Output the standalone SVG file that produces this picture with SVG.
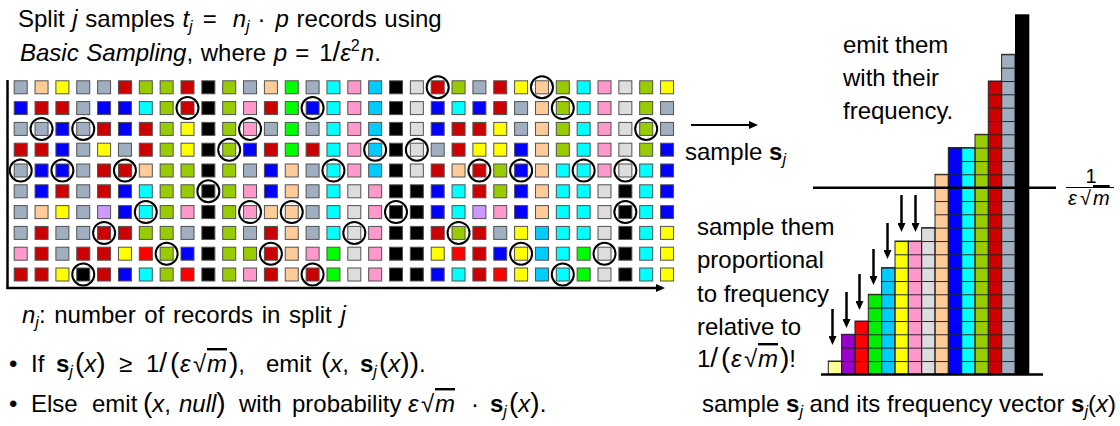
<svg xmlns="http://www.w3.org/2000/svg" xmlns:xlink="http://www.w3.org/1999/xlink" width="1120" height="426" viewBox="0 0 1120 426">
<style>
.t{font-family:"Liberation Sans",Arial,sans-serif;font-size:24px;fill:#000}
.it{font-style:italic}
.bd{font-weight:bold}
.sb{font-size:16px;font-style:italic}
.pn{font-size:28px}
.ov{font-style:italic;text-decoration:overline}
.G{fill:#9fafc0}.P{fill:#ffcc99}.Y{fill:#ffff00}.R{fill:#cc0000}.L{fill:#99cc00}.K{fill:#000000}.N{fill:#00ff00}.C{fill:#00ffff}.I{fill:#ff99cc}.S{fill:#00ccff}.W{fill:#dddddd}.B{fill:#0000ff}.V{fill:#cc99ff}.E{fill:#ff0000}
.ring{fill:none;stroke:#000;stroke-width:2}
.ax{stroke:#000;stroke-width:2.5;fill:none}
.arr{stroke:#000;stroke-width:2.5;fill:none;marker-end:url(#ah)}
.cell{fill:url(#cells);stroke:#222;stroke-width:1}
</style>
<defs>
<rect id="q" width="13" height="13" stroke="#505050" stroke-width="1"/>
<marker id="ah" viewBox="0 0 9 8" markerWidth="9" markerHeight="8" refX="4" refY="4" orient="auto" markerUnits="userSpaceOnUse"><path d="M0,0 L9,4 L0,8 z" fill="#000"/></marker>
<pattern id="cells" patternUnits="userSpaceOnUse" x="0" y="374.3" width="20" height="13.333"><path d="M0 0.5H20" stroke="#222" stroke-width="1"/></pattern>
</defs>
<rect width="1120" height="426" fill="#fff"/>

<g id="grid">
<g transform="translate(0,80.8)">
<use href="#q" x="14.2" class="G"/><use href="#q" x="35.05" class="P"/><use href="#q" x="55.9" class="Y"/><use href="#q" x="76.75" class="G"/><use href="#q" x="97.6" class="G"/><use href="#q" x="118.45" class="R"/><use href="#q" x="139.3" class="L"/><use href="#q" x="160.15" class="L"/><use href="#q" x="181" class="R"/><use href="#q" x="201.85" class="K"/><use href="#q" x="222.7" class="L"/><use href="#q" x="243.55" class="G"/><use href="#q" x="264.4" class="P"/><use href="#q" x="285.25" class="N"/><use href="#q" x="306.1" class="G"/><use href="#q" x="326.95" class="C"/><use href="#q" x="347.8" class="I"/><use href="#q" x="368.65" class="S"/><use href="#q" x="389.5" class="K"/><use href="#q" x="410.35" class="W"/><use href="#q" x="431.2" class="R"/><use href="#q" x="452.05" class="L"/><use href="#q" x="472.9" class="G"/><use href="#q" x="493.75" class="R"/><use href="#q" x="514.6" class="Y"/><use href="#q" x="535.45" class="P"/><use href="#q" x="556.3" class="L"/><use href="#q" x="577.15" class="C"/><use href="#q" x="598" class="I"/><use href="#q" x="618.85" class="W"/><use href="#q" x="639.7" class="L"/><use href="#q" x="660.55" class="Y"/>
</g>
<g transform="translate(0,101.6)">
<use href="#q" x="14.2" class="B"/><use href="#q" x="35.05" class="R"/><use href="#q" x="55.9" class="R"/><use href="#q" x="76.75" class="G"/><use href="#q" x="97.6" class="B"/><use href="#q" x="118.45" class="B"/><use href="#q" x="139.3" class="C"/><use href="#q" x="160.15" class="L"/><use href="#q" x="181" class="R"/><use href="#q" x="201.85" class="K"/><use href="#q" x="222.7" class="L"/><use href="#q" x="243.55" class="I"/><use href="#q" x="264.4" class="R"/><use href="#q" x="285.25" class="N"/><use href="#q" x="306.1" class="B"/><use href="#q" x="326.95" class="C"/><use href="#q" x="347.8" class="I"/><use href="#q" x="368.65" class="S"/><use href="#q" x="389.5" class="K"/><use href="#q" x="410.35" class="W"/><use href="#q" x="431.2" class="B"/><use href="#q" x="452.05" class="C"/><use href="#q" x="472.9" class="B"/><use href="#q" x="493.75" class="R"/><use href="#q" x="514.6" class="G"/><use href="#q" x="535.45" class="P"/><use href="#q" x="556.3" class="L"/><use href="#q" x="577.15" class="C"/><use href="#q" x="598" class="I"/><use href="#q" x="618.85" class="W"/><use href="#q" x="639.7" class="L"/><use href="#q" x="660.55" class="G"/>
</g>
<g transform="translate(0,122.4)">
<use href="#q" x="14.2" class="G"/><use href="#q" x="35.05" class="G"/><use href="#q" x="55.9" class="B"/><use href="#q" x="76.75" class="G"/><use href="#q" x="97.6" class="R"/><use href="#q" x="118.45" class="B"/><use href="#q" x="139.3" class="R"/><use href="#q" x="160.15" class="L"/><use href="#q" x="181" class="Y"/><use href="#q" x="201.85" class="K"/><use href="#q" x="222.7" class="L"/><use href="#q" x="243.55" class="I"/><use href="#q" x="264.4" class="G"/><use href="#q" x="285.25" class="N"/><use href="#q" x="306.1" class="G"/><use href="#q" x="326.95" class="C"/><use href="#q" x="347.8" class="I"/><use href="#q" x="368.65" class="S"/><use href="#q" x="389.5" class="K"/><use href="#q" x="410.35" class="W"/><use href="#q" x="431.2" class="B"/><use href="#q" x="452.05" class="R"/><use href="#q" x="472.9" class="R"/><use href="#q" x="493.75" class="Y"/><use href="#q" x="514.6" class="G"/><use href="#q" x="535.45" class="P"/><use href="#q" x="556.3" class="L"/><use href="#q" x="577.15" class="C"/><use href="#q" x="598" class="I"/><use href="#q" x="618.85" class="W"/><use href="#q" x="639.7" class="L"/><use href="#q" x="660.55" class="G"/>
</g>
<g transform="translate(0,143.2)">
<use href="#q" x="14.2" class="R"/><use href="#q" x="35.05" class="R"/><use href="#q" x="55.9" class="B"/><use href="#q" x="76.75" class="G"/><use href="#q" x="97.6" class="Y"/><use href="#q" x="118.45" class="G"/><use href="#q" x="139.3" class="R"/><use href="#q" x="160.15" class="L"/><use href="#q" x="181" class="Y"/><use href="#q" x="201.85" class="K"/><use href="#q" x="222.7" class="L"/><use href="#q" x="243.55" class="B"/><use href="#q" x="264.4" class="R"/><use href="#q" x="285.25" class="N"/><use href="#q" x="306.1" class="R"/><use href="#q" x="326.95" class="C"/><use href="#q" x="347.8" class="I"/><use href="#q" x="368.65" class="S"/><use href="#q" x="389.5" class="K"/><use href="#q" x="410.35" class="W"/><use href="#q" x="431.2" class="G"/><use href="#q" x="452.05" class="R"/><use href="#q" x="472.9" class="Y"/><use href="#q" x="493.75" class="Y"/><use href="#q" x="514.6" class="B"/><use href="#q" x="535.45" class="P"/><use href="#q" x="556.3" class="L"/><use href="#q" x="577.15" class="C"/><use href="#q" x="598" class="I"/><use href="#q" x="618.85" class="W"/><use href="#q" x="639.7" class="L"/><use href="#q" x="660.55" class="B"/>
</g>
<g transform="translate(0,164)">
<use href="#q" x="14.2" class="G"/><use href="#q" x="35.05" class="B"/><use href="#q" x="55.9" class="B"/><use href="#q" x="76.75" class="G"/><use href="#q" x="97.6" class="R"/><use href="#q" x="118.45" class="R"/><use href="#q" x="139.3" class="P"/><use href="#q" x="160.15" class="L"/><use href="#q" x="181" class="L"/><use href="#q" x="201.85" class="K"/><use href="#q" x="222.7" class="L"/><use href="#q" x="243.55" class="G"/><use href="#q" x="264.4" class="B"/><use href="#q" x="285.25" class="P"/><use href="#q" x="306.1" class="G"/><use href="#q" x="326.95" class="C"/><use href="#q" x="347.8" class="I"/><use href="#q" x="368.65" class="S"/><use href="#q" x="389.5" class="K"/><use href="#q" x="410.35" class="W"/><use href="#q" x="431.2" class="R"/><use href="#q" x="452.05" class="P"/><use href="#q" x="472.9" class="R"/><use href="#q" x="493.75" class="L"/><use href="#q" x="514.6" class="B"/><use href="#q" x="535.45" class="P"/><use href="#q" x="556.3" class="C"/><use href="#q" x="577.15" class="C"/><use href="#q" x="598" class="I"/><use href="#q" x="618.85" class="W"/><use href="#q" x="639.7" class="C"/><use href="#q" x="660.55" class="B"/>
</g>
<g transform="translate(0,184.8)">
<use href="#q" x="14.2" class="G"/><use href="#q" x="35.05" class="B"/><use href="#q" x="55.9" class="R"/><use href="#q" x="76.75" class="G"/><use href="#q" x="97.6" class="R"/><use href="#q" x="118.45" class="B"/><use href="#q" x="139.3" class="C"/><use href="#q" x="160.15" class="L"/><use href="#q" x="181" class="L"/><use href="#q" x="201.85" class="K"/><use href="#q" x="222.7" class="L"/><use href="#q" x="243.55" class="I"/><use href="#q" x="264.4" class="B"/><use href="#q" x="285.25" class="P"/><use href="#q" x="306.1" class="G"/><use href="#q" x="326.95" class="C"/><use href="#q" x="347.8" class="W"/><use href="#q" x="368.65" class="I"/><use href="#q" x="389.5" class="K"/><use href="#q" x="410.35" class="K"/><use href="#q" x="431.2" class="B"/><use href="#q" x="452.05" class="C"/><use href="#q" x="472.9" class="R"/><use href="#q" x="493.75" class="L"/><use href="#q" x="514.6" class="B"/><use href="#q" x="535.45" class="P"/><use href="#q" x="556.3" class="C"/><use href="#q" x="577.15" class="C"/><use href="#q" x="598" class="W"/><use href="#q" x="618.85" class="K"/><use href="#q" x="639.7" class="C"/><use href="#q" x="660.55" class="B"/>
</g>
<g transform="translate(0,205.6)">
<use href="#q" x="14.2" class="G"/><use href="#q" x="35.05" class="P"/><use href="#q" x="55.9" class="Y"/><use href="#q" x="76.75" class="G"/><use href="#q" x="97.6" class="V"/><use href="#q" x="118.45" class="B"/><use href="#q" x="139.3" class="C"/><use href="#q" x="160.15" class="L"/><use href="#q" x="181" class="I"/><use href="#q" x="201.85" class="K"/><use href="#q" x="222.7" class="L"/><use href="#q" x="243.55" class="I"/><use href="#q" x="264.4" class="P"/><use href="#q" x="285.25" class="P"/><use href="#q" x="306.1" class="G"/><use href="#q" x="326.95" class="C"/><use href="#q" x="347.8" class="W"/><use href="#q" x="368.65" class="I"/><use href="#q" x="389.5" class="K"/><use href="#q" x="410.35" class="K"/><use href="#q" x="431.2" class="B"/><use href="#q" x="452.05" class="C"/><use href="#q" x="472.9" class="V"/><use href="#q" x="493.75" class="I"/><use href="#q" x="514.6" class="B"/><use href="#q" x="535.45" class="P"/><use href="#q" x="556.3" class="C"/><use href="#q" x="577.15" class="C"/><use href="#q" x="598" class="W"/><use href="#q" x="618.85" class="K"/><use href="#q" x="639.7" class="C"/><use href="#q" x="660.55" class="B"/>
</g>
<g transform="translate(0,226.4)">
<use href="#q" x="14.2" class="G"/><use href="#q" x="35.05" class="R"/><use href="#q" x="55.9" class="G"/><use href="#q" x="76.75" class="G"/><use href="#q" x="97.6" class="R"/><use href="#q" x="118.45" class="R"/><use href="#q" x="139.3" class="L"/><use href="#q" x="160.15" class="L"/><use href="#q" x="181" class="G"/><use href="#q" x="201.85" class="K"/><use href="#q" x="222.7" class="L"/><use href="#q" x="243.55" class="G"/><use href="#q" x="264.4" class="R"/><use href="#q" x="285.25" class="P"/><use href="#q" x="306.1" class="G"/><use href="#q" x="326.95" class="C"/><use href="#q" x="347.8" class="W"/><use href="#q" x="368.65" class="I"/><use href="#q" x="389.5" class="K"/><use href="#q" x="410.35" class="K"/><use href="#q" x="431.2" class="R"/><use href="#q" x="452.05" class="L"/><use href="#q" x="472.9" class="R"/><use href="#q" x="493.75" class="G"/><use href="#q" x="514.6" class="Y"/><use href="#q" x="535.45" class="S"/><use href="#q" x="556.3" class="C"/><use href="#q" x="577.15" class="C"/><use href="#q" x="598" class="W"/><use href="#q" x="618.85" class="K"/><use href="#q" x="639.7" class="C"/><use href="#q" x="660.55" class="Y"/>
</g>
<g transform="translate(0,247.2)">
<use href="#q" x="14.2" class="I"/><use href="#q" x="35.05" class="R"/><use href="#q" x="55.9" class="G"/><use href="#q" x="76.75" class="R"/><use href="#q" x="97.6" class="R"/><use href="#q" x="118.45" class="Y"/><use href="#q" x="139.3" class="E"/><use href="#q" x="160.15" class="L"/><use href="#q" x="181" class="B"/><use href="#q" x="201.85" class="K"/><use href="#q" x="222.7" class="L"/><use href="#q" x="243.55" class="L"/><use href="#q" x="264.4" class="R"/><use href="#q" x="285.25" class="P"/><use href="#q" x="306.1" class="I"/><use href="#q" x="326.95" class="N"/><use href="#q" x="347.8" class="W"/><use href="#q" x="368.65" class="I"/><use href="#q" x="389.5" class="K"/><use href="#q" x="410.35" class="K"/><use href="#q" x="431.2" class="Y"/><use href="#q" x="452.05" class="E"/><use href="#q" x="472.9" class="R"/><use href="#q" x="493.75" class="B"/><use href="#q" x="514.6" class="Y"/><use href="#q" x="535.45" class="S"/><use href="#q" x="556.3" class="C"/><use href="#q" x="577.15" class="N"/><use href="#q" x="598" class="W"/><use href="#q" x="618.85" class="K"/><use href="#q" x="639.7" class="C"/><use href="#q" x="660.55" class="Y"/>
</g>
<g transform="translate(0,268)">
<use href="#q" x="14.2" class="R"/><use href="#q" x="35.05" class="R"/><use href="#q" x="55.9" class="Y"/><use href="#q" x="76.75" class="K"/><use href="#q" x="97.6" class="R"/><use href="#q" x="118.45" class="B"/><use href="#q" x="139.3" class="C"/><use href="#q" x="160.15" class="L"/><use href="#q" x="181" class="E"/><use href="#q" x="201.85" class="K"/><use href="#q" x="222.7" class="L"/><use href="#q" x="243.55" class="I"/><use href="#q" x="264.4" class="R"/><use href="#q" x="285.25" class="P"/><use href="#q" x="306.1" class="R"/><use href="#q" x="326.95" class="N"/><use href="#q" x="347.8" class="W"/><use href="#q" x="368.65" class="I"/><use href="#q" x="389.5" class="K"/><use href="#q" x="410.35" class="K"/><use href="#q" x="431.2" class="B"/><use href="#q" x="452.05" class="C"/><use href="#q" x="472.9" class="R"/><use href="#q" x="493.75" class="E"/><use href="#q" x="514.6" class="Y"/><use href="#q" x="535.45" class="S"/><use href="#q" x="556.3" class="C"/><use href="#q" x="577.15" class="N"/><use href="#q" x="598" class="W"/><use href="#q" x="618.85" class="K"/><use href="#q" x="639.7" class="C"/><use href="#q" x="660.55" class="Y"/>
</g>
</g>

<g id="samples">
<circle class="ring" cx="437.7" cy="87.3" r="11"/><circle class="ring" cx="541.95" cy="87.3" r="11"/>
<circle class="ring" cx="187.5" cy="108.1" r="11"/><circle class="ring" cx="312.6" cy="108.1" r="11"/><circle class="ring" cx="562.8" cy="108.1" r="11"/>
<circle class="ring" cx="41.55" cy="128.9" r="11"/><circle class="ring" cx="83.25" cy="128.9" r="11"/><circle class="ring" cx="250.05" cy="128.9" r="11"/><circle class="ring" cx="646.2" cy="128.9" r="11"/>
<circle class="ring" cx="229.2" cy="149.7" r="11"/><circle class="ring" cx="375.15" cy="149.7" r="11"/><circle class="ring" cx="416.85" cy="149.7" r="11"/>
<circle class="ring" cx="20.7" cy="170.5" r="11"/><circle class="ring" cx="62.4" cy="170.5" r="11"/><circle class="ring" cx="124.95" cy="170.5" r="11"/><circle class="ring" cx="333.45" cy="170.5" r="11"/><circle class="ring" cx="479.4" cy="170.5" r="11"/><circle class="ring" cx="521.1" cy="170.5" r="11"/><circle class="ring" cx="583.65" cy="170.5" r="11"/><circle class="ring" cx="625.35" cy="170.5" r="11"/>
<circle class="ring" cx="208.35" cy="191.3" r="11"/>
<circle class="ring" cx="145.8" cy="212.1" r="11"/><circle class="ring" cx="250.05" cy="212.1" r="11"/><circle class="ring" cx="291.75" cy="212.1" r="11"/><circle class="ring" cx="396" cy="212.1" r="11"/><circle class="ring" cx="625.35" cy="212.1" r="11"/>
<circle class="ring" cx="104.1" cy="232.9" r="11"/><circle class="ring" cx="354.3" cy="232.9" r="11"/><circle class="ring" cx="458.55" cy="232.9" r="11"/>
<circle class="ring" cx="166.65" cy="253.7" r="11"/><circle class="ring" cx="270.9" cy="253.7" r="11"/><circle class="ring" cx="521.1" cy="253.7" r="11"/><circle class="ring" cx="604.5" cy="253.7" r="11"/>
<circle class="ring" cx="83.25" cy="274.5" r="11"/><circle class="ring" cx="312.6" cy="274.5" r="11"/><circle class="ring" cx="562.8" cy="274.5" r="11"/>
</g>

<g id="histogram">
<rect x="828.3" y="361" width="13.33" height="13.3" fill="#ffff99"/>
<rect x="841.6" y="334.3" width="13.33" height="40" fill="#9900cc"/>
<rect x="855" y="321" width="13.33" height="53.3" fill="#ff0000"/>
<rect x="868.3" y="294.3" width="13.33" height="80" fill="#00ee00"/>
<rect x="881.6" y="267.6" width="13.33" height="106.7" fill="#00ccff"/>
<rect x="895" y="241" width="13.33" height="133.3" fill="#ffff00"/>
<rect x="908.3" y="241" width="13.33" height="133.3" fill="#ff99cc"/>
<rect x="921.6" y="227.6" width="13.33" height="146.7" fill="#dddddd"/>
<rect x="935" y="174.3" width="13.33" height="200" fill="#ffcc99"/>
<rect x="948.3" y="147.6" width="13.33" height="226.7" fill="#0000ff"/>
<rect x="961.6" y="147.6" width="13.33" height="226.7" fill="#00ffff"/>
<rect x="975" y="134.3" width="13.33" height="240" fill="#99cc00"/>
<rect x="988.3" y="81" width="13.33" height="293.3" fill="#cc0000"/>
<rect x="1001.6" y="54.3" width="13.33" height="320" fill="#9fafc0"/>
<rect class="cell" x="828.3" y="361" width="13.33" height="13.3"/>
<rect class="cell" x="841.6" y="334.3" width="13.33" height="40"/>
<rect class="cell" x="855" y="321" width="13.33" height="53.3"/>
<rect class="cell" x="868.3" y="294.3" width="13.33" height="80"/>
<rect class="cell" x="881.6" y="267.6" width="13.33" height="106.7"/>
<rect class="cell" x="895" y="241" width="13.33" height="133.3"/>
<rect class="cell" x="908.3" y="241" width="13.33" height="133.3"/>
<rect class="cell" x="921.6" y="227.6" width="13.33" height="146.7"/>
<rect class="cell" x="935" y="174.3" width="13.33" height="200"/>
<rect class="cell" x="948.3" y="147.6" width="13.33" height="226.7"/>
<rect class="cell" x="961.6" y="147.6" width="13.33" height="226.7"/>
<rect class="cell" x="975" y="134.3" width="13.33" height="240"/>
<rect class="cell" x="988.3" y="81" width="13.33" height="293.3"/>
<rect class="cell" x="1001.6" y="54.3" width="13.33" height="320"/>
<rect x="1015" y="14.3" width="14.3" height="360" fill="#000"/>
<line class="ax" x1="821" y1="374.5" x2="1043" y2="374.5"/>
<line class="ax" x1="813" y1="187.7" x2="1056" y2="187.7"/>
</g>

<g id="connectors">
<line class="ax" x1="7.5" y1="80" x2="7.5" y2="289"/>
<line class="arr" x1="6.5" y1="288" x2="660" y2="288"/>
<line class="arr" x1="691" y1="125" x2="753" y2="125" style="stroke-width:2"/>
<line class="arr" x1="832.5" y1="309" x2="832.5" y2="340"/>
<line class="arr" x1="846.5" y1="292" x2="846.5" y2="323"/>
<line class="arr" x1="859.5" y1="274" x2="859.5" y2="305"/>
<line class="arr" x1="873.5" y1="249" x2="873.5" y2="280"/>
<line class="arr" x1="887.5" y1="223" x2="887.5" y2="254"/>
<line class="arr" x1="901.5" y1="195" x2="901.5" y2="227"/>
<line class="arr" x1="915.5" y1="195" x2="915.5" y2="227"/>
</g>

<g id="labels">
<text class="t" x="18" y="27" word-spacing="1">Split <tspan class="it">j</tspan> samples <tspan class="it">t</tspan><tspan class="sb" dy="5">j</tspan><tspan dy="-5" dx="10">=</tspan><tspan class="it" dx="16">n</tspan><tspan class="sb" dy="5">j</tspan><tspan dy="-5" dx="8">·</tspan><tspan class="it" dx="10">p</tspan> records using</text>
<text class="t" x="20" y="61" word-spacing="1"><tspan class="it">Basic Sampling</tspan>, where <tspan class="it">p</tspan><tspan dx="8">=</tspan><tspan dx="10">1</tspan><tspan class="pn">/</tspan><tspan class="it">ε</tspan><tspan font-size="16" dy="-10">2</tspan><tspan class="it" dy="10" dx="1">n</tspan>.</text>
<text class="t" x="685" y="160">sample <tspan class="bd">s</tspan><tspan class="sb" dy="5">j</tspan></text>
<text class="t" x="843" y="53">emit them</text>
<text class="t" x="843" y="86">with their</text>
<text class="t" x="843" y="119">frequency.</text>
<text class="t" x="697" y="235">sample them</text>
<text class="t" x="697" y="268">proportional</text>
<text class="t" x="697" y="302">to frequency</text>
<text class="t" x="697" y="335">relative to</text>
<text class="t" y="367"><tspan x="697">1</tspan><tspan class="pn">/</tspan><tspan class="pn" x="721">(</tspan><tspan x="731" class="it">ε</tspan><tspan x="744">√</tspan><tspan x="758" class="ov">m</tspan><tspan class="pn" x="780">)</tspan>!</text>
<text class="t" x="1091" y="183" text-anchor="middle" style="font-size:20px">1</text>
<line x1="1066" y1="187.5" x2="1114" y2="187.5" stroke="#000" stroke-width="1.2"/>
<text class="t" y="205" style="font-size:20px"><tspan x="1068" class="it">ε</tspan><tspan x="1080">√</tspan><tspan x="1093" class="ov">m</tspan></text>
<text class="t" x="1116" y="412" text-anchor="end">sample <tspan class="bd">s</tspan><tspan class="sb" dy="5">j</tspan><tspan dy="-5"> and its frequency vector </tspan><tspan class="bd">s</tspan><tspan class="sb" dy="5">j</tspan><tspan dy="-5">(</tspan><tspan class="it">x</tspan>)</text>
<text class="t" x="22" y="323" word-spacing="2"><tspan class="it">n</tspan><tspan class="sb" dy="5">j</tspan><tspan dy="-5">: number of records in split </tspan><tspan class="it">j</tspan></text>
<text class="t" y="372"><tspan x="9">•</tspan><tspan x="31">If</tspan><tspan x="56" class="bd">s</tspan><tspan class="sb" dy="5">j</tspan><tspan class="pn" x="75" dy="-5">(</tspan><tspan class="it">x</tspan><tspan class="pn">)</tspan><tspan x="119">≥</tspan><tspan x="146">1</tspan><tspan class="pn">/</tspan><tspan class="pn" x="170">(</tspan><tspan x="180" class="it">ε</tspan><tspan x="193">√</tspan><tspan x="207" class="ov">m</tspan><tspan class="pn" x="229">)</tspan>,<tspan x="266">emit</tspan><tspan class="pn" x="321">(</tspan><tspan class="it">x</tspan>,<tspan x="360" class="bd">s</tspan><tspan class="sb" dy="5">j</tspan><tspan class="pn" x="379" dy="-5">(</tspan><tspan class="it">x</tspan><tspan class="pn">))</tspan>.</text>
<text class="t" y="412"><tspan x="9">•</tspan><tspan x="31">Else</tspan><tspan x="92">emit</tspan><tspan class="pn" x="143">(</tspan><tspan class="it">x</tspan>,<tspan x="179" class="it">null</tspan><tspan class="pn">)</tspan><tspan x="239">with</tspan><tspan x="292">probability</tspan><tspan x="408" class="it">ε</tspan><tspan x="421">√</tspan><tspan x="435" class="ov">m</tspan><tspan x="471">·</tspan><tspan x="490" class="bd">s</tspan><tspan class="sb" dy="5">j</tspan><tspan class="pn" x="509" dy="-5">(</tspan><tspan class="it">x</tspan><tspan class="pn">)</tspan>.</text>
</g>
</svg>
